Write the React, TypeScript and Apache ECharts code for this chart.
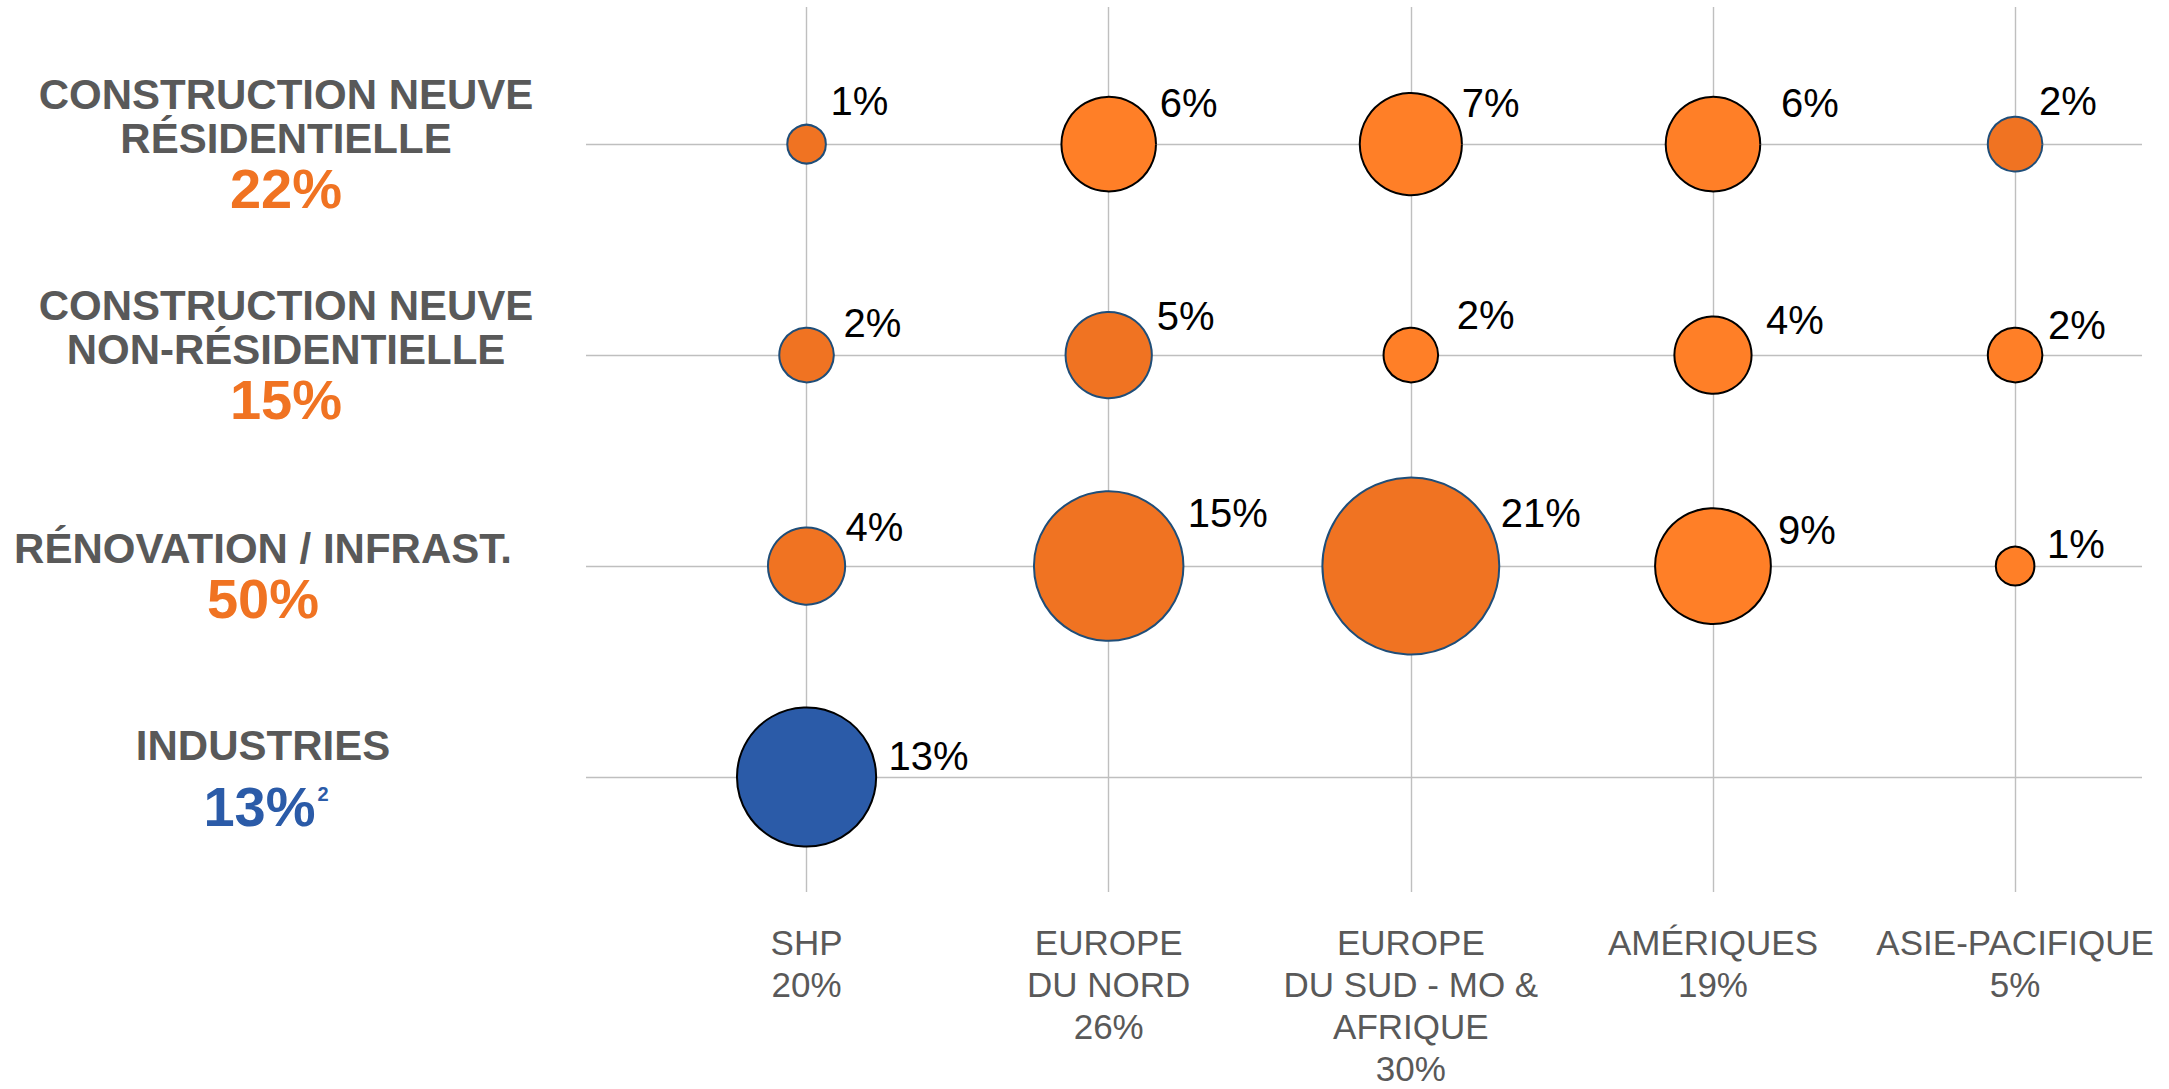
import React, { useEffect, useRef } from 'react';
import * as echarts from 'echarts';

// ---------- data ----------
const regions = ['SHP', 'EUROPE\nDU NORD', 'EUROPE\nDU SUD - MO &\nAFRIQUE', 'AMÉRIQUES', 'ASIE-PACIFIQUE'];
const regionShares = ['20%', '26%', '30%', '19%', '5%'];
const segmentTitles = [
  ['CONSTRUCTION NEUVE', 'RÉSIDENTIELLE'],
  ['CONSTRUCTION NEUVE', 'NON-RÉSIDENTIELLE'],
  ['RÉNOVATION / INFRAST.'],
  ['INDUSTRIES'],
];
const segmentShares = ['22%', '15%', '50%', '13%'];
const segmentNotes = ['', '', '', '2'];
const residential = [1, 6, 7, 6, 2];
const nonResidential = [2, 5, 2, 4, 2];
const renovation = [4, 15, 21, 9, 1];
const industries = [13, null, null, null, null];
const rows = [residential, nonResidential, renovation, industries];

// ---------- styles ----------
const FONT = '"Liberation Sans", Arial, sans-serif';
const GREY = '#595959';
const ORANGE = '#F07322';
const BLUE = '#2B5BA8';
const styleA = { color: '#F07322', borderColor: '#1F4E79', borderWidth: 2, opacity: 1 };
const styleB = { color: '#FF7F27', borderColor: '#000000', borderWidth: 2, opacity: 1 };
const styleBlue = { color: BLUE, borderColor: '#000000', borderWidth: 2, opacity: 1 };
const rowStyles = [
  [styleA, styleB, styleB, styleB, styleA],
  [styleA, styleA, styleB, styleB, styleB],
  [styleA, styleA, styleA, styleB, styleB],
  [styleBlue, styleBlue, styleBlue, styleBlue, styleBlue],
];
// label placement relative to bubble centre (px)
const labelNudge = [
  [[24, -43], [51, -41], [51, -41], [68, -41], [24, -43]],
  [[37, -32], [48, -39], [46, -40], [53, -35], [33, -30]],
  [[39, -39], [79, -53], [90, -53], [65, -36], [32, -22]],
  [[82, -21], [0, 0], [0, 0], [0, 0], [0, 0]],
];
const SIZE_K = 38.6;

function rowLabel(i: number): string {
  const t = segmentTitles[i];
  if (i < 2) {
    return t.map((s) => `{t|${s}}`).join('\n') + `\n{n|${segmentShares[i]}}`;
  }
  if (i === 2) {
    return `{sp| }\n{t3|${t[0]}}\n{n3|${segmentShares[i]}}`;
  }
  return `{t4|${t[0]}}\n{nb|${segmentShares[i]}}{sup|${segmentNotes[i]}}`;
}

export default function App() {
  const ref = useRef<HTMLDivElement>(null);
  useEffect(() => {
    if (!ref.current) return;
    const chart = echarts.init(ref.current, undefined, { renderer: 'svg' });
    const series = rows.map((vals, r) => ({
      type: 'scatter',
      clip: false,
      data: vals
        .map((v, c) =>
          v == null
            ? null
            : {
                value: [c, 3 - r, v],
                itemStyle: rowStyles[r][c],
                label: { offset: labelNudge[r][c] },
              }
        )
        .filter((d) => d !== null),
      symbol: 'circle',
      symbolSize: (val: number[]) => SIZE_K * Math.sqrt(val[2]),
      itemStyle: { opacity: 1 },
      label: {
        show: true,
        position: 'inside',
        align: 'left',
        verticalAlign: 'middle',
        formatter: (p: any) => `${p.value[2]}%`,
        fontSize: 40,
        color: '#000000',
        opacity: 1,
        fontFamily: FONT,
      },
      emphasis: { disabled: true },
    }));

    chart.setOption({
      animation: false,
      backgroundColor: '#ffffff',
      grid: { left: 586, right: 27, top: 7, bottom: 194, containLabel: false },
      xAxis: {
        type: 'value',
        min: -0.73,
        max: 4.42,
        axisLine: { show: false },
        axisTick: { show: false, customValues: [0, 1, 2, 3, 4] },
        axisLabel: {
          customValues: [0, 1, 2, 3, 4],
          formatter: (v: number) => `${regions[Math.round(v)]}\n${regionShares[Math.round(v)]}`,
          color: GREY,
          fontSize: 35,
          lineHeight: 42,
          fontFamily: FONT,
          margin: 29,
          verticalAlign: 'top',
        },
        splitLine: { show: true, lineStyle: { color: '#BFBFBF', width: 1.4 } },
      },
      yAxis: {
        type: 'value',
        min: -0.545,
        max: 3.65,
        axisLine: { show: false },
        axisTick: { show: false, customValues: [0, 1, 2, 3] },
        axisLabel: {
          customValues: [0, 1, 2, 3],
          formatter: (v: number) => rowLabel(3 - Math.round(v)),
          align: 'center',
          verticalAlign: 'middle',
          margin: 300,
          fontFamily: FONT,
          rich: {
            t: { fontSize: 42, fontWeight: 'bold', color: GREY, lineHeight: 44, fontFamily: FONT },
            n: { fontSize: 56, fontWeight: 'bold', color: ORANGE, lineHeight: 56, fontFamily: FONT },
            sp: { fontSize: 8, lineHeight: 20, color: 'rgba(0,0,0,0)', fontFamily: FONT },
            t3: { fontSize: 42, fontWeight: 'bold', color: GREY, lineHeight: 44, fontFamily: FONT, padding: [0, 46, 0, 0] },
            n3: { fontSize: 56, fontWeight: 'bold', color: ORANGE, lineHeight: 56, fontFamily: FONT, padding: [0, 46, 0, 0] },
            t4: { fontSize: 42, fontWeight: 'bold', color: GREY, lineHeight: 58, fontFamily: FONT, padding: [0, 46, 0, 0] },
            nb: { fontSize: 56, fontWeight: 'bold', color: BLUE, lineHeight: 64, fontFamily: FONT },
            sup: { fontSize: 20, fontWeight: 'bold', color: BLUE, lineHeight: 20, verticalAlign: 'top', fontFamily: FONT, padding: [10, 40, 0, 2] },
          },
        },
        splitLine: { show: true, lineStyle: { color: '#BFBFBF', width: 1.4 } },
      },
      series,
    });
    return () => chart.dispose();
  }, []);
  return (
    <div
      ref={ref}
      style={{ position: 'absolute', left: 0, top: 0, width: 2169, height: 1089, background: '#fff' }}
    />
  );
}
